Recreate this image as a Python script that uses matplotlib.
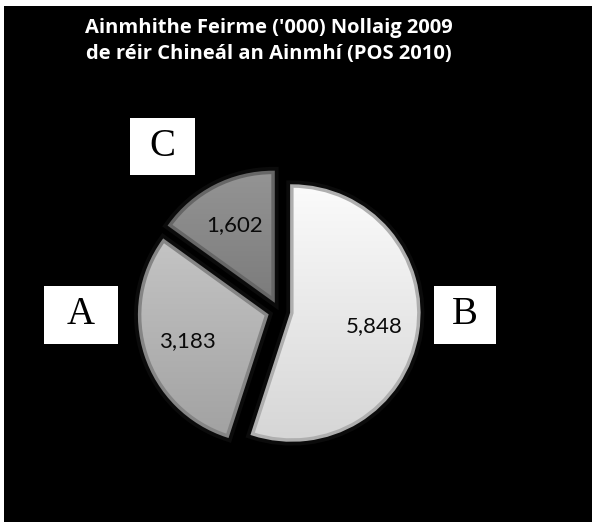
import matplotlib.pyplot as plt
import matplotlib.patheffects as pe
import numpy as np
from matplotlib.colors import to_rgb
from matplotlib.patches import PathPatch, Rectangle

# data (clockwise from 12 o'clock)
categories = ['B', 'A', 'C']
values = [5848, 3183, 1602]
title = "Ainmhithe Feirme ('000) Nollaig 2009\nde réir Chineál an Ainmhí (POS 2010)"

top_cols = ['#fbfbfb', '#c4c4c4', '#949494']
bot_cols = ['#d6d6d6', '#a2a2a2', '#7c7c7c']

W, H = 592, 522
fig = plt.figure(figsize=(W / 100, H / 100), dpi=100, facecolor='white')
fig.patches.append(Rectangle((4 / W, 0), 1, (H - 6) / H, transform=fig.transFigure,
                             facecolor='black', edgecolor='none', zorder=-5))

ax = fig.add_axes([0, 0, 1, 1])
ax.set_facecolor('none')

total = sum(values)
wedges, _, autotexts = ax.pie(
    values, startangle=90, counterclock=False, radius=127, center=(279, 211),
    explode=[13, 13, 13], autopct=lambda p: f'{round(p * total / 100):,}',
    pctdistance=0.66, frame=False,
    wedgeprops=dict(edgecolor='none', linewidth=0),
    textprops=dict(fontsize=16, family='Lato', color='#0a0a0a'),
)
ax.set_xlim(0, W)
ax.set_ylim(0, H)
ax.set_aspect('equal')
ax.axis('off')

renderer = fig.canvas.get_renderer()
inv = ax.transData.inverted()
for w, tc, bc in zip(wedges, top_cols, bot_cols):
    w.set_path_effects([pe.withStroke(linewidth=8, foreground='#0b0b0b')])
    w.set_facecolor(bc)
    ext = w.get_window_extent(renderer)
    (ex0, ey0), (ex1, ey1) = inv.transform([[ext.x0, ext.y0], [ext.x1, ext.y1]])
    t = np.linspace(0, 1, 128)[:, None]
    grad = (1 - t)[..., None] * np.array(to_rgb(tc)) + t[..., None] * np.array(to_rgb(bc))
    grad = np.repeat(grad, 2, axis=1)
    im = ax.imshow(grad, extent=(ex0, ex1, ey0, ey1), origin='upper',
                   aspect='auto', zorder=w.get_zorder() + 0.1, interpolation='bilinear')
    im.set_clip_path(w)
    edge = np.array(to_rgb(bc)) * 0.82
    ax.add_patch(PathPatch(w.get_path(), transform=w.get_transform(),
                           facecolor='none', edgecolor=edge,
                           linewidth=2.5, zorder=w.get_zorder() + 0.2))

for t in autotexts:
    t.set_zorder(5)

ax.set_xlim(0, W)
ax.set_ylim(0, H)

# category boxes
boxes = {'A': (44, 178, 74, 58), 'B': (434, 178, 62, 58), 'C': (130, 347, 65, 57)}
for lab, (bx, by, bw, bh) in boxes.items():
    ax.add_patch(Rectangle((bx, by), bw, bh, facecolor='white', edgecolor='none', zorder=6))
    ax.text(bx + bw / 2, by + bh / 2, lab, ha='center', va='center', fontsize=28,
            family='Liberation Serif', color='black', zorder=7)

fig.text(269 / W, 1 - 41 / H, title, ha='center', va='center', color='white',
         fontsize=14.5, fontweight='bold', family='Open Sans', linespacing=1.4)

fig.savefig('out.png', dpi=100, facecolor='white')
